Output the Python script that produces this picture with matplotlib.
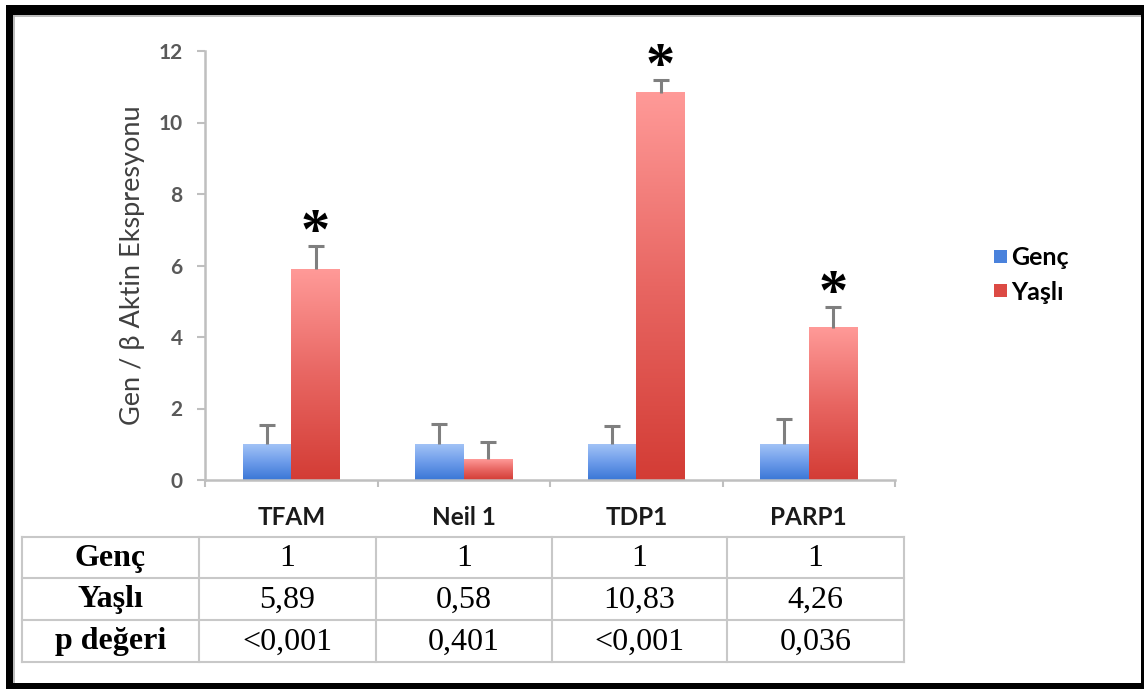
import numpy as np
import matplotlib
matplotlib.use("Agg")
import matplotlib.pyplot as plt
from matplotlib.colors import LinearSegmentedColormap
from matplotlib.patches import Rectangle, Patch
from matplotlib.lines import Line2D

# ---- data ----
genes = ["TFAM", "Neil 1", "TDP1", "PARP1"]
series_names = ["Genç", "Yaşlı"]
genc = [1, 1, 1, 1]
yasli = [5.89, 0.58, 10.83, 4.26]
genc_err = [0.54, 0.57, 0.51, 0.71]
yasli_err = [0.66, 0.48, 0.36, 0.58]
p_values = ["<0,001", "0,401", "<0,001", "0,036"]
significant = [True, False, True, True]
row_names = ["Genç", "Yaşlı", "p değeri"]
yticks = [0, 2, 4, 6, 8, 10, 12]

W, H = 1144, 689
fig = plt.figure(figsize=(W / 100, H / 100), dpi=100)
fig.patch.set_facecolor("white")


def fx(px):
    return px / W


def fy(py):
    return 1 - py / H


ax = fig.add_axes([fx(205), fy(480), fx(895) - fx(205), fy(51) - fy(480)])

x = np.arange(len(genes))
w = 0.282
bars_g = ax.bar(x - w / 2, genc, w, color="none", zorder=2)
bars_y = ax.bar(x + w / 2, yasli, w, color="none", zorder=2)

cmap_blue = LinearSegmentedColormap.from_list("genc", ["#3a76d6", "#6d9cea", "#a2c3f6"])
cmap_red = LinearSegmentedColormap.from_list("yasli", ["#d33c35", "#e86662", "#ff9a98"])
grad = np.linspace(0, 1, 256).reshape(-1, 1)
for bars, cmap in ((bars_g, cmap_blue), (bars_y, cmap_red)):
    for r in bars:
        x0, y0 = r.get_x(), r.get_y()
        ax.imshow(grad, extent=(x0, x0 + r.get_width(), y0, y0 + r.get_height()),
                  origin="lower", cmap=cmap, aspect="auto", zorder=2,
                  interpolation="bilinear")

# upper-only error bars
for pos, vals, errs in ((x - w / 2, genc, genc_err), (x + w / 2, yasli, yasli_err)):
    _, caps, _ = ax.errorbar(pos, vals, yerr=[np.zeros(len(vals)), errs], fmt="none",
                             ecolor="#7f7f7f", elinewidth=2.2, capsize=6, capthick=2.2,
                             zorder=3)
    for c in caps:
        if np.allclose(c.get_ydata(), vals):
            c.set_visible(False)

# significance marks
for i, sig in enumerate(significant):
    if sig:
        ax.text(x[i] + w / 2, yasli[i] + yasli_err[i] + 0.34, "*", ha="center",
                va="center", fontsize=42, fontweight="bold",
                family="Liberation Serif", color="black", zorder=4)

ax.set_xlim(-0.5, len(genes) - 0.5)
ax.set_ylim(0, 12)
ax.set_yticks(yticks)
ax.set_yticklabels([str(t) for t in yticks], fontsize=15, fontweight="bold",
                   family="Lato", color="#595959")
ax.set_xticks(np.arange(len(genes) + 1) - 0.5)
ax.set_xticklabels([])
ax.set_xticks(x, minor=True)
ax.set_xticklabels(genes, minor=True, fontsize=17.5, fontweight="bold", family="Lato",
                   color="#1a1a1a")
ax.tick_params(axis="y", length=6, width=1.5, color="#bfbfbf", pad=10)
ax.tick_params(axis="x", which="major", length=5, width=1.5, color="#bfbfbf")
ax.tick_params(axis="x", which="minor", length=0, pad=19)
for s in ("top", "right"):
    ax.spines[s].set_visible(False)
for s in ("left", "bottom"):
    ax.spines[s].set_color("#bfbfbf")
    ax.spines[s].set_linewidth(1.8)
ax.set_ylabel("Gen / β Aktin Ekspresyonu", fontsize=19.5, family="Lato",
              color="#404040", labelpad=10)

# legend
handles = [Patch(facecolor="#4a82dc", edgecolor="none"),
           Patch(facecolor="#dc4a44", edgecolor="none")]
fig.legend(handles, series_names, loc="center left",
           bbox_to_anchor=(fx(984), fy(275)), frameon=False,
           prop={"family": "Lato", "weight": "bold", "size": 18},
           handlelength=0.5, handleheight=0.4, handletextpad=0.2,
           labelspacing=0.45, borderaxespad=0)

# table below the chart
col_edges = [22, 199, 376, 552, 727, 904]
row_edges = [537, 578, 620, 662]
line_kw = dict(color="#c8c8c8", linewidth=1.5, transform=fig.transFigure)
for yy in row_edges:
    fig.add_artist(Line2D([fx(col_edges[0]), fx(col_edges[-1])], [fy(yy), fy(yy)], **line_kw))
for xx in col_edges:
    fig.add_artist(Line2D([fx(xx), fx(xx)], [fy(row_edges[0]), fy(row_edges[-1])], **line_kw))

fmt = lambda v: f"{v:g}".replace(".", ",")
table_rows = [[fmt(v) for v in genc], [fmt(v) for v in yasli], p_values]
for r, (name, cells) in enumerate(zip(row_names, table_rows)):
    yc = fy((row_edges[r] + row_edges[r + 1]) / 2 + 1)
    fig.text(fx((col_edges[0] + col_edges[1]) / 2), yc, name, ha="center", va="center",
             fontsize=23, fontweight="bold", family="Liberation Serif", color="black")
    for c, txt in enumerate(cells):
        fig.text(fx((col_edges[c + 1] + col_edges[c + 2]) / 2), yc, txt, ha="center",
                 va="center", fontsize=23, family="Liberation Serif", color="black")

# black frame
frame = [(6, 5, 1144, 10), (6, 5, 7, 689), (1141, 5, 10, 689), (6, 683, 1144, 10)]
for (px, py, pw, ph) in frame:
    fig.add_artist(Rectangle((fx(px), fy(py + ph)), pw / W, ph / H, facecolor="black",
                             edgecolor="none", transform=fig.transFigure, zorder=10))
fig.add_artist(Line2D([fx(13), fx(1141)], [fy(16), fy(16)], color="#b0b0b0",
                      linewidth=1.2, transform=fig.transFigure))
fig.add_artist(Line2D([fx(14), fx(14)], [fy(15), fy(683)], color="#b0b0b0",
                      linewidth=1.2, transform=fig.transFigure))

fig.savefig("out.png", dpi=100, facecolor="white")
